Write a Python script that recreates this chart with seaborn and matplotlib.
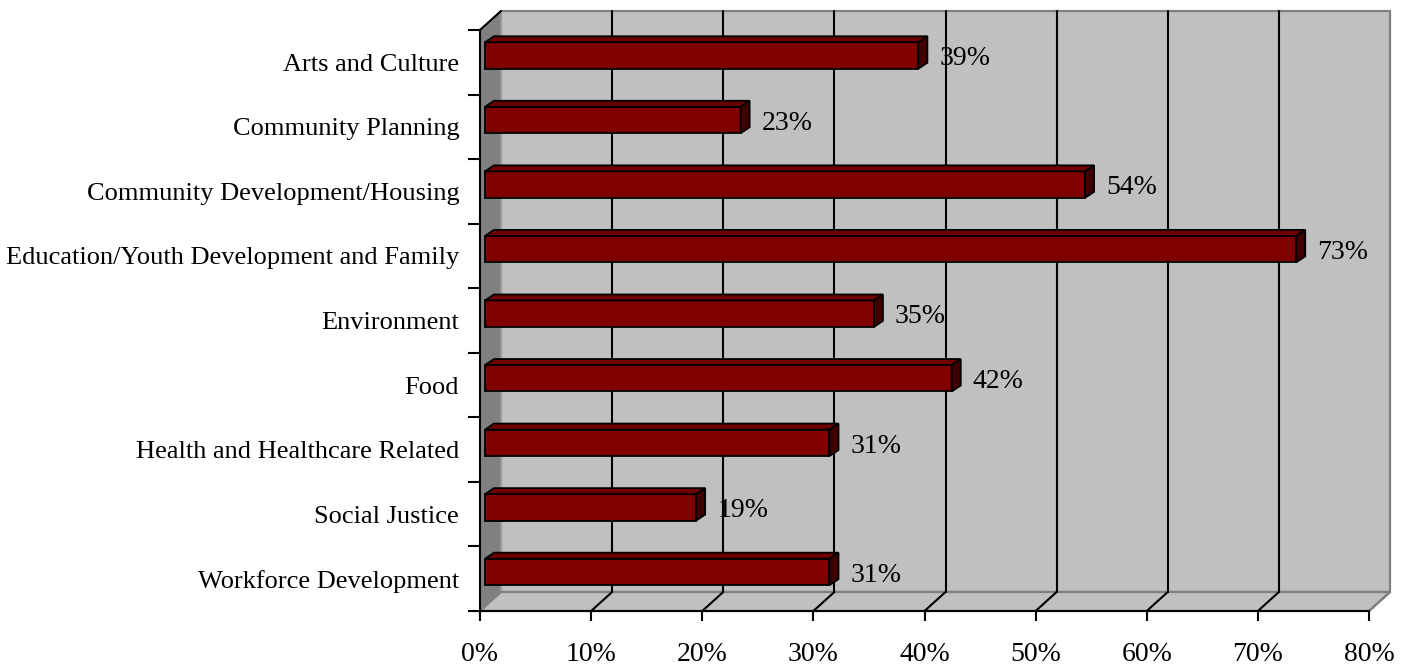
import numpy as np
import pandas as pd
import matplotlib
matplotlib.use('Agg')
import matplotlib.pyplot as plt
from matplotlib.patches import Polygon
from matplotlib.transforms import Affine2D
import seaborn as sns

categories = ['Arts and Culture', 'Community Planning', 'Community Development/Housing',
              'Education/Youth Development and Family', 'Environment', 'Food',
              'Health and Healthcare Related', 'Social Justice', 'Workforce Development']
values = [39, 23, 54, 73, 35, 42, 31, 19, 31]
x_ticks = [0, 10, 20, 30, 40, 50, 60, 70, 80]
x_ticklabels = [f'{t}%' for t in x_ticks]

df = pd.DataFrame({'area': categories, 'pct': values})

sns.set_style('white')
plt.rcParams['font.family'] = ['Liberation Serif', 'DejaVu Serif']
plt.rcParams['text.color'] = 'black'
plt.rcParams['xtick.color'] = 'black'
plt.rcParams['ytick.color'] = 'black'

W, H = 1410, 665
fig = plt.figure(figsize=(W / 100, H / 100), dpi=100)
# front plane of the 3d box, in pixels
x0, x1, ytop, ybot = 480, 1369, 30, 611
ax = fig.add_axes([x0 / W, (H - ybot) / H, (x1 - x0) / W, (ybot - ytop) / H])

sns.barplot(data=df, x='pct', y='area', orient='h', color='#800000', width=0.41,
            edgecolor='black', linewidth=1.3, saturation=1, ax=ax, zorder=5)
bars = list(ax.patches)
ax.set_xlim(0, 80)
ax.set_ylim(8.5, -0.5)

# pixel -> data scales
px_x = (x1 - x0) / 80.0
px_y = (ybot - ytop) / 9.0
dx, dy = 21 / px_x, -19 / px_y      # depth of the box
ex, ey = 9 / px_x, 6 / px_y         # depth of each bar

kw = dict(clip_on=False, transform=ax.transData)
# walls and floor
ax.add_patch(Polygon([(dx, 8.5 + dy), (80 + dx, 8.5 + dy), (80 + dx, -0.5 + dy), (dx, -0.5 + dy)],
                     facecolor='#c0c0c0', edgecolor='#808080', lw=1.6, zorder=0, **kw))
ax.add_patch(Polygon([(0, 8.5), (dx, 8.5 + dy), (dx, -0.5 + dy), (0, -0.5)],
                     facecolor='#808080', edgecolor='#a0a0a0', lw=1.2, zorder=0.5, **kw))
ax.add_patch(Polygon([(0, 8.5), (80, 8.5), (80 + dx, 8.5 + dy), (dx, 8.5 + dy)],
                     facecolor='#c0c0c0', edgecolor='#808080', lw=1.6, zorder=0.5, **kw))
ax.plot([0, dx], [-0.5, -0.5 + dy], color='black', lw=1.5, zorder=3, clip_on=False)

# gridlines on back wall and floor
for t in x_ticks[1:-1]:
    ax.plot([t + dx, t + dx], [8.5 + dy, -0.5 + dy], color='black', lw=1.5, zorder=1, clip_on=False)
    ax.plot([t, t + dx], [8.5, 8.5 + dy], color='black', lw=1.5, zorder=1, clip_on=False)
ax.plot([80, 80 + dx], [8.5, 8.5 + dy], color='#808080', lw=1.6, zorder=1, clip_on=False)

# move bars back into the box and give them depth
shift = ax.transData + Affine2D().translate(5, 6.8)
for p in bars:
    p.set_transform(shift)
    p.set_clip_on(False)
    bx, by = p.get_x(), p.get_y()
    bw, bh = p.get_width(), p.get_height()
    top = Polygon([(bx, by), (bx + bw, by), (bx + bw + ex, by - ey), (bx + ex, by - ey)],
                  facecolor='#6e0000', edgecolor='black', lw=1.3, zorder=5, clip_on=False)
    side = Polygon([(bx + bw, by), (bx + bw, by + bh), (bx + bw + ex, by + bh - ey), (bx + bw + ex, by - ey)],
                   facecolor='#400000', edgecolor='black', lw=1.3, zorder=5, clip_on=False)
    top.set_transform(shift)
    side.set_transform(shift)
    ax.add_patch(top)
    ax.add_patch(side)

for i, v in enumerate(values):
    ax.text(v + 1.9, i + 0.05, f'{v}%', ha='left', va='center', fontsize=20,
            color='black', transform=shift, zorder=6, clip_on=False)

# axes
sns.despine(ax=ax, top=True, right=True)
for s in ['left', 'bottom']:
    ax.spines[s].set_color('black')
    ax.spines[s].set_linewidth(1.5)
    ax.spines[s].set_zorder(4)
ax.set_xticks(x_ticks)
ax.set_xticklabels(x_ticklabels)
ax.set_yticks(range(len(categories)))
ax.set_yticklabels(categories)
ax.set_yticks(np.arange(-0.5, 9.0, 1.0), minor=True)
ax.tick_params(axis='y', which='major', length=0, pad=15, labelsize=19, labelcolor='black')
ax.tick_params(axis='y', which='minor', length=9, width=1.5, color='black', direction='out', left=True)
ax.tick_params(axis='x', which='major', length=7.5, width=1.5, color='black', direction='out',
               bottom=True, pad=15, labelsize=20, labelcolor='black')
ax.set_xlabel('')
ax.set_ylabel('')
ax.patch.set_visible(False)

fig.savefig('out.png', dpi=100, facecolor='white')
